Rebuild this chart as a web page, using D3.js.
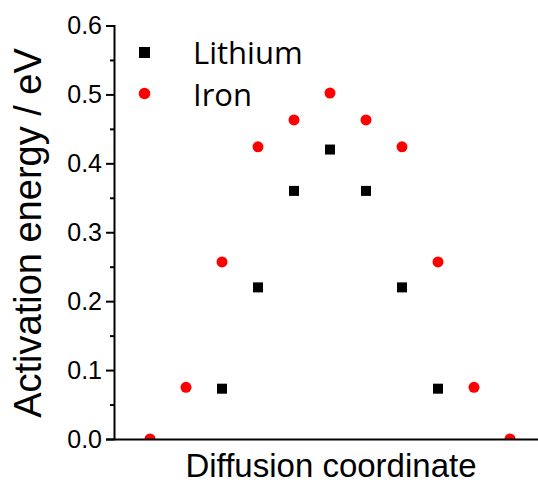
<!DOCTYPE html>
<html><head><meta charset="utf-8">
<script src="https://cdn.jsdelivr.net/npm/d3@7"></script>
<style>body{margin:0;background:#fff}</style>
</head><body>
<svg id="c" width="538" height="485"></svg>
<script>
const ironIndex = [0,1,2,3,4,5,6,7,8,9,10];
const ironValues = [0, 0.075, 0.257, 0.424, 0.463, 0.502, 0.463, 0.424, 0.257, 0.075, 0];
const lithiumIndex = [2,3,4,5,6,7,8];
const lithiumValues = [0.073, 0.22, 0.36, 0.42, 0.36, 0.22, 0.073];
const yTicks = [0.0, 0.1, 0.2, 0.3, 0.4, 0.5, 0.6];
const yMinorTicks = [0.05, 0.15, 0.25, 0.35, 0.45, 0.55];
const seriesNames = ["Lithium", "Iron"];

const svg = d3.select("#c");
const x = d3.scaleLinear().domain([-1, 11]).range([114, 546]);
const y = d3.scaleLinear().domain([0, 0.6]).range([439, 25.5]);

svg.append("defs").append("clipPath").attr("id","clip")
  .append("rect").attr("x",114).attr("y",0).attr("width",424).attr("height",439);

const g = svg.append("g").attr("clip-path","url(#clip)");
g.selectAll("circle.iron").data(ironIndex).join("circle")
  .attr("cx", i => x(i)).attr("cy", (i,k) => y(ironValues[k]))
  .attr("r", 5.5).attr("fill", "#ff0000");
g.selectAll("rect.li").data(lithiumIndex).join("rect")
  .attr("x", i => x(i) - 5).attr("y", (i,k) => y(lithiumValues[k]) - 5)
  .attr("width", 10).attr("height", 10).attr("fill", "#000");

// left axis
const yAxis = d3.axisLeft(y).tickValues(yTicks).tickFormat(d3.format(".1f")).tickSize(8).tickPadding(4);
const ya = svg.append("g").attr("transform","translate(114,0)").call(yAxis);
ya.select(".domain").attr("stroke","#000").attr("stroke-width",2);
ya.selectAll(".tick line").attr("stroke-width",2);
ya.selectAll(".tick text").attr("font-family","Liberation Sans, Arial, sans-serif")
  .attr("font-size",25).attr("fill","#000");
const yMinor = d3.axisLeft(y).tickValues(yMinorTicks).tickSize(4).tickFormat("");
const ym = svg.append("g").attr("transform","translate(114,0)").call(yMinor);
ym.select(".domain").remove();
ym.selectAll(".tick line").attr("stroke-width",2);

// bottom axis (no ticks)
const xAxis = d3.axisBottom(x).tickValues([]).tickSizeOuter(0);
const xa = svg.append("g").attr("transform","translate(0,439)").call(xAxis);
xa.select(".domain").attr("stroke","#000").attr("stroke-width",2);

// axis titles
svg.append("text").attr("x", 331).attr("y", 477).attr("text-anchor","middle")
  .attr("font-family","Liberation Sans, Arial, sans-serif").attr("font-size",33).attr("fill","#000")
  .text("Diffusion coordinate");
svg.append("text").attr("transform","translate(41,233) rotate(-90)").attr("text-anchor","middle")
  .attr("font-family","Liberation Sans, Arial, sans-serif").attr("font-size",38).attr("fill","#000")
  .text("Activation energy / eV");

// legend
const leg = svg.append("g");
leg.append("rect").attr("x",139).attr("y",47).attr("width",11).attr("height",11).attr("fill","#000");
leg.append("circle").attr("cx",144.5).attr("cy",93.5).attr("r",5.8).attr("fill","#ff0000");
leg.append("text").attr("x",193).attr("y",64).attr("font-family","Open Sans, sans-serif")
  .attr("font-size",31).attr("fill","#000").text(seriesNames[0]);
leg.append("text").attr("x",193).attr("y",106).attr("font-family","Open Sans, sans-serif")
  .attr("font-size",31).attr("fill","#000").text(seriesNames[1]);
</script>
</body></html>
